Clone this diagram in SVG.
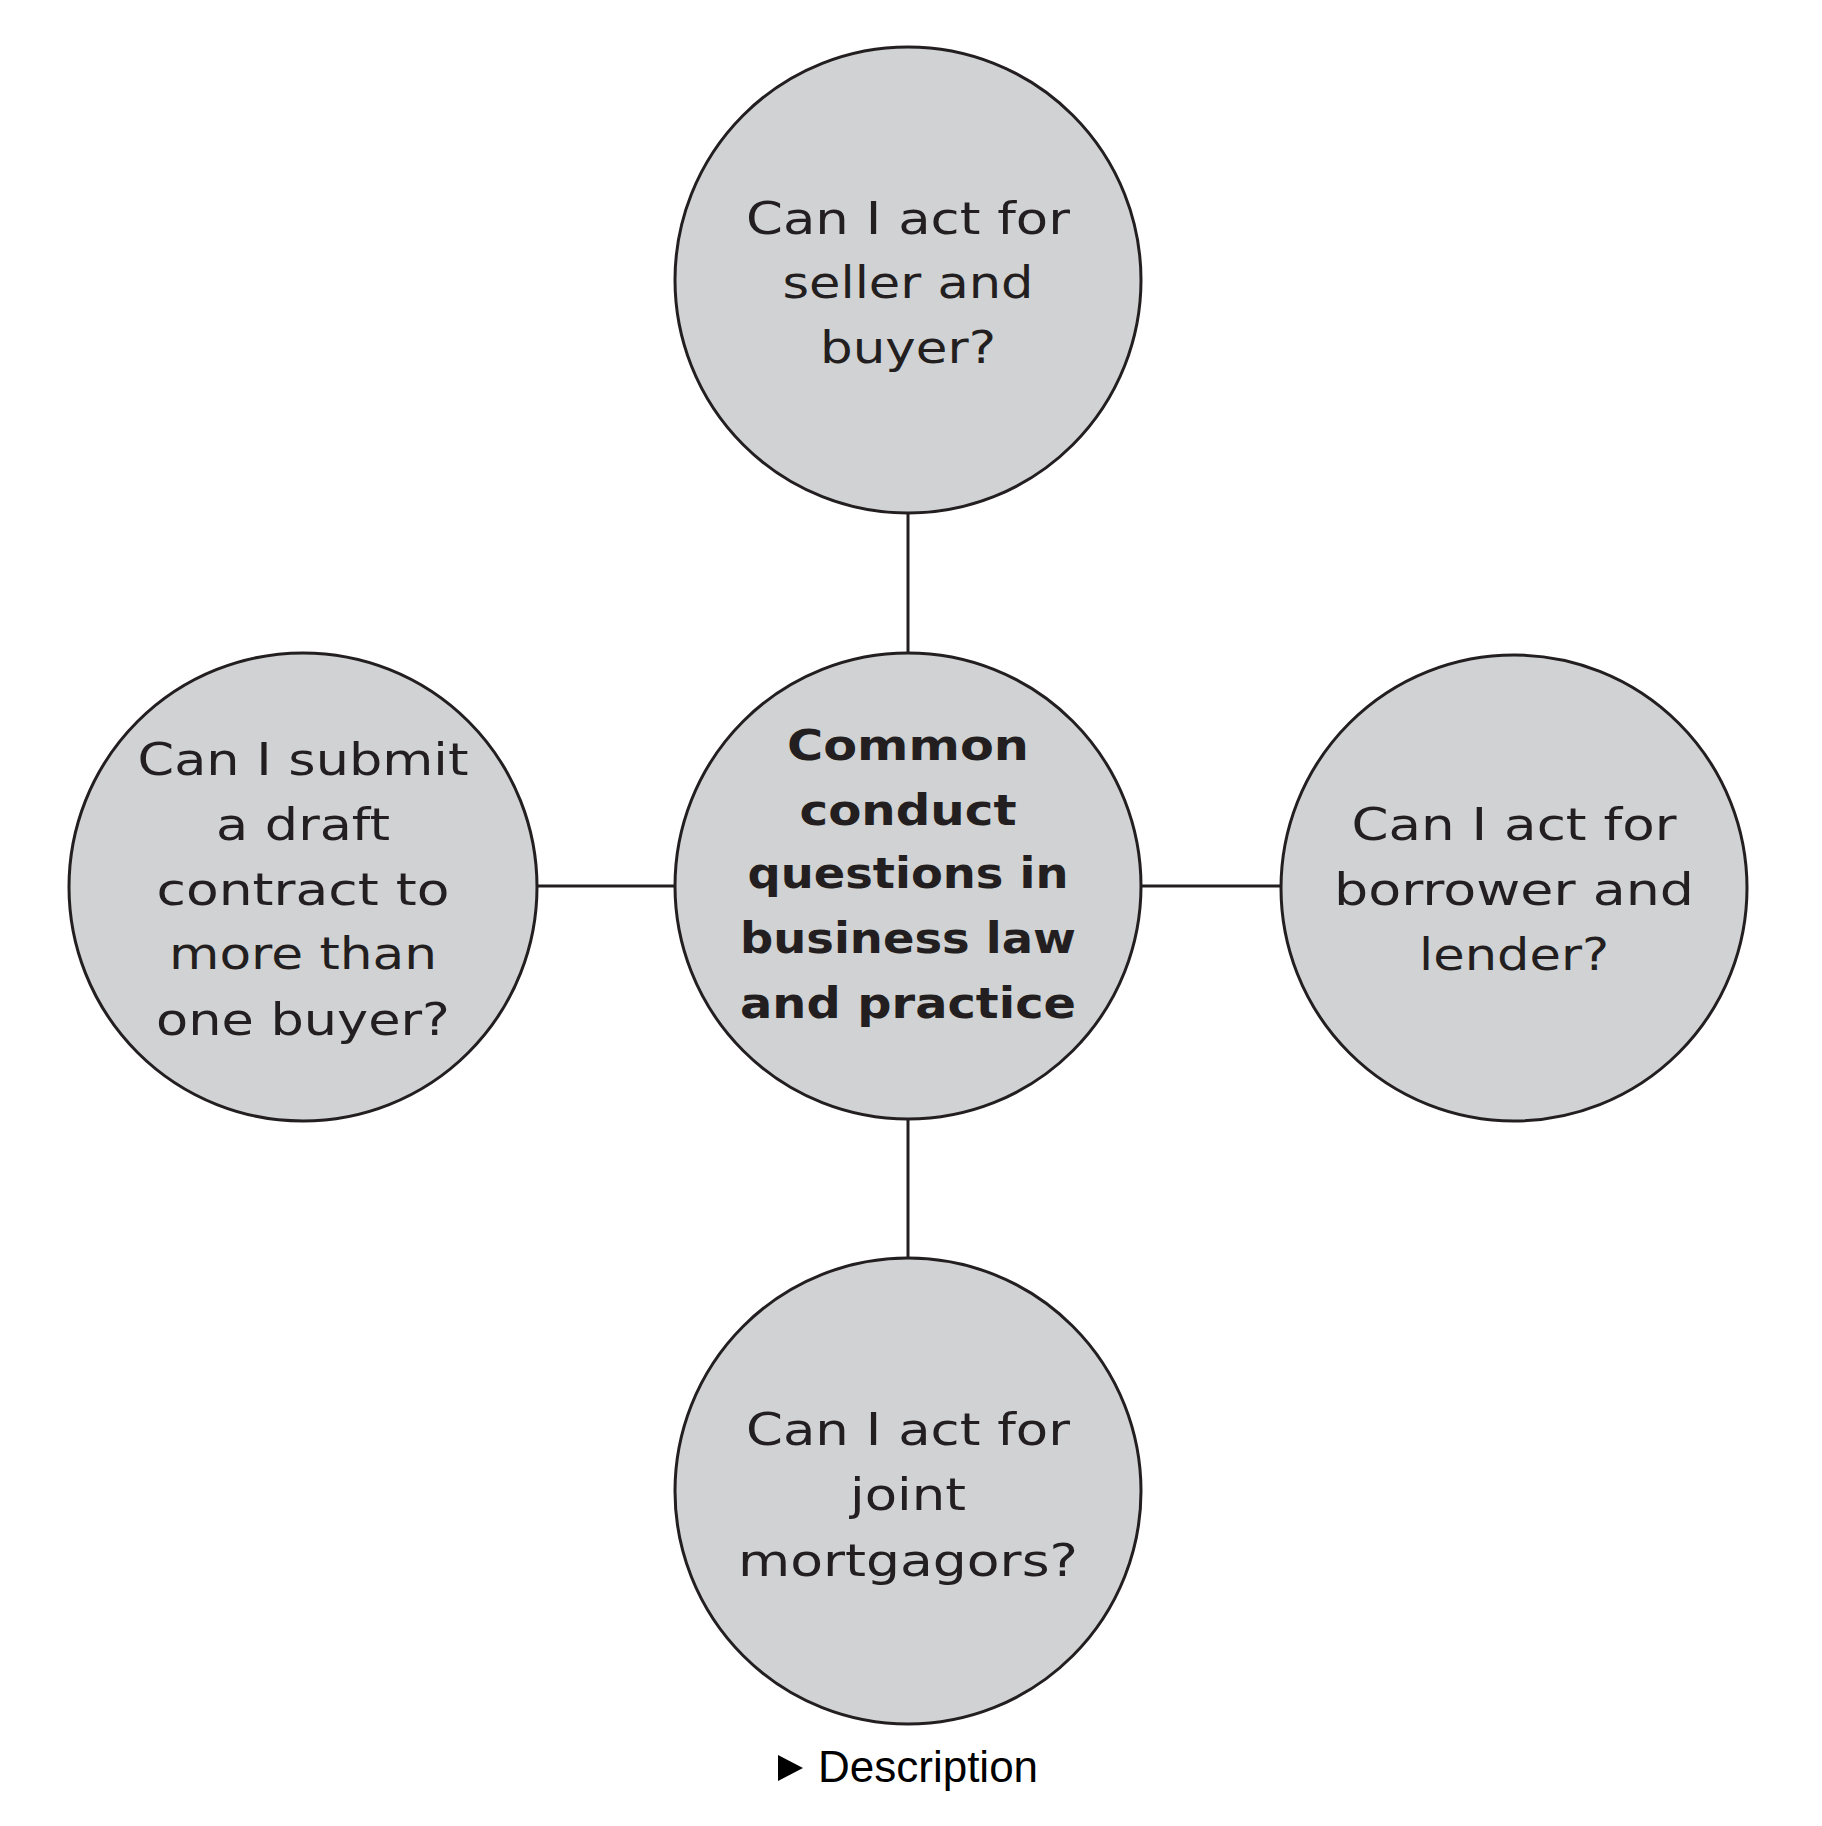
<svg xmlns="http://www.w3.org/2000/svg" width="1822" height="1826" viewBox="0 0 1822 1826">
<style>
.node circle{fill:#d1d2d4;stroke:#231f20;stroke-width:3}
.lbl{font-family:"DejaVu Sans","Noto Sans","Liberation Sans",sans-serif;font-size:44px;fill:#231f20;text-anchor:middle}
.bold{font-weight:700;font-size:43px}
.conn line{stroke:#231f20;stroke-width:3}
.desc{font-family:"Liberation Sans",Arial,sans-serif;font-size:44px;fill:#000}
</style>
<rect width="1822" height="1826" fill="#fff"/>
<g class="conn" id="connectors">
<line x1="908" y1="512" x2="908" y2="653"/>
<line x1="537" y1="886" x2="674" y2="886"/>
<line x1="1142" y1="886" x2="1280" y2="886"/>
<line x1="908" y1="1118" x2="908" y2="1258"/>
</g>
<g class="node" id="top">
<circle cx="908" cy="280" r="233"/>
<text class="lbl"><tspan x="908" y="234" textLength="324" lengthAdjust="spacingAndGlyphs">Can I act for</tspan><tspan x="908" y="298" textLength="251" lengthAdjust="spacingAndGlyphs">seller and</tspan><tspan x="908" y="363" textLength="176" lengthAdjust="spacingAndGlyphs">buyer?</tspan></text>
</g>
<g class="node" id="center">
<circle cx="908" cy="886" r="233"/>
<text class="lbl bold"><tspan x="908" y="760" textLength="242" lengthAdjust="spacingAndGlyphs">Common</tspan><tspan x="908" y="825" textLength="217" lengthAdjust="spacingAndGlyphs">conduct</tspan><tspan x="908" y="888" textLength="321" lengthAdjust="spacingAndGlyphs">questions in</tspan><tspan x="908" y="953" textLength="336" lengthAdjust="spacingAndGlyphs">business law</tspan><tspan x="908" y="1018" textLength="336" lengthAdjust="spacingAndGlyphs">and practice</tspan></text>
</g>
<g class="node" id="left">
<circle cx="303" cy="887" r="234"/>
<text class="lbl"><tspan x="303" y="775" textLength="331" lengthAdjust="spacingAndGlyphs">Can I submit</tspan><tspan x="303" y="840" textLength="174" lengthAdjust="spacingAndGlyphs">a draft</tspan><tspan x="303" y="905" textLength="293" lengthAdjust="spacingAndGlyphs">contract to</tspan><tspan x="303" y="969" textLength="268" lengthAdjust="spacingAndGlyphs">more than</tspan><tspan x="303" y="1035" textLength="294" lengthAdjust="spacingAndGlyphs">one buyer?</tspan></text>
</g>
<g class="node" id="right">
<circle cx="1514" cy="888" r="233"/>
<text class="lbl"><tspan x="1514" y="840" textLength="325" lengthAdjust="spacingAndGlyphs">Can I act for</tspan><tspan x="1514" y="905" textLength="360" lengthAdjust="spacingAndGlyphs">borrower and</tspan><tspan x="1514" y="970" textLength="190" lengthAdjust="spacingAndGlyphs">lender?</tspan></text>
</g>
<g class="node" id="bottom">
<circle cx="908" cy="1491" r="233"/>
<text class="lbl"><tspan x="908" y="1445" textLength="324" lengthAdjust="spacingAndGlyphs">Can I act for</tspan><tspan x="908" y="1510" textLength="116" lengthAdjust="spacingAndGlyphs">joint</tspan><tspan x="908" y="1576" textLength="340" lengthAdjust="spacingAndGlyphs">mortgagors?</tspan></text>
</g>
<g id="description">
<polygon points="778,1755 803,1768 778,1781" fill="#000"/>
<text class="desc" x="818" y="1782">Description</text>
</g>
</svg>
